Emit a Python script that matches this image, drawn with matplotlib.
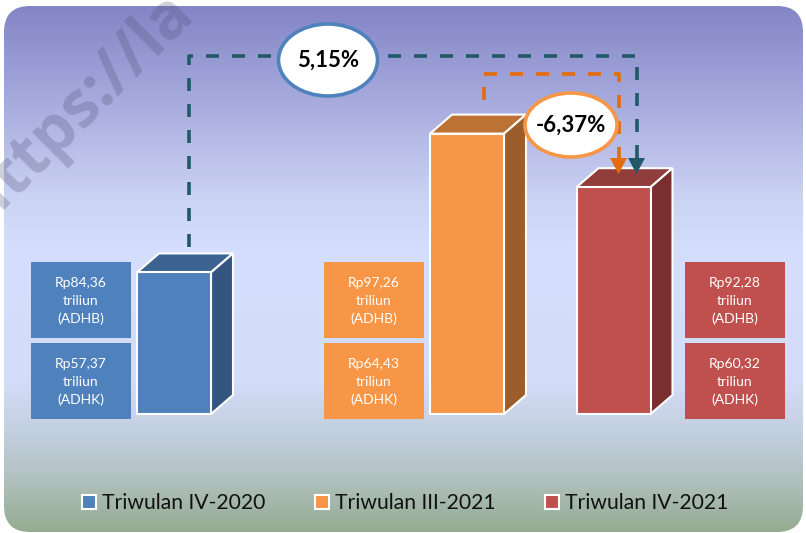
import matplotlib
matplotlib.use('Agg')
import matplotlib.pyplot as plt
import numpy as np
from matplotlib.patches import Polygon, Ellipse, FancyBboxPatch, Patch, Rectangle
from matplotlib.colors import to_rgb

plt.rcParams['font.family'] = ['Lato', 'DejaVu Sans']

# ---------------- data ----------------
categories = ['Triwulan IV-2020', 'Triwulan III-2021', 'Triwulan IV-2021']
adhb = [84.36, 97.26, 92.28]
adhk = [57.37, 64.43, 60.32]
growth_labels = ['5,15%', '-6,37%']

front_colors = ['#4f81bd', '#f79646', '#c0504d']
top_colors = ['#3d6390', '#bb7234', '#913d3b']
side_colors = ['#34557f', '#9c5d2a', '#7a2f2e']

W, H = 806, 533
fig = plt.figure(figsize=(W / 100, H / 100), dpi=100)
fig.patch.set_facecolor('white')

# ---------------- background ----------------
ax_bg = fig.add_axes([0, 0, 1, 1], zorder=0)
stops_y = [6, 100, 200, 250, 380, 430, 470, 532]
stops_c = ['#8385c5', '#a7aadd', '#ccd4f4', '#d5defc', '#d3ddf9', '#c3d0e0', '#b5c4c6', '#94ab90']
ys = np.arange(H)
cols = np.array([to_rgb(c) for c in stops_c])
grad = np.stack([np.interp(ys, stops_y, cols[:, k]) for k in range(3)], axis=-1)[:, None, :]
im = ax_bg.imshow(grad, extent=(0, W, H, 0), aspect='auto', interpolation='bilinear')
clip = FancyBboxPatch((4, 6), 799, 526, boxstyle='round,pad=0,rounding_size=26',
                      facecolor='none', edgecolor='none', transform=ax_bg.transData)
ax_bg.add_patch(clip)
im.set_clip_path(clip)
ax_bg.set_xlim(0, W)
ax_bg.set_ylim(H, 0)
ax_bg.axis('off')
ax_bg.text(-16, 226, 'https://la', rotation=45, rotation_mode='anchor', ha='left', va='baseline',
           fontsize=46, fontweight='bold', color='#505078', alpha=0.28,
           family=['Open Sans', 'DejaVu Sans'])

# ---------------- bars ----------------
base = 71.2
scale = 10.76          # pixels per unit
y_bottom_px = 414
ax = fig.add_axes([0, 0, 1, 1], zorder=1)
ax.patch.set_alpha(0)
ax.set_xlim(0, W)
ax.set_ylim(base - (H - y_bottom_px) / scale, base + y_bottom_px / scale)
ax.axis('off')

x_pos = [174, 467, 613.5]
bw = 74
bars = ax.bar(x_pos, np.array(adhb) - base, bottom=base, width=bw, color=front_colors,
              edgecolor='white', linewidth=1.5, zorder=3)
dx = 22
dy = 19 / scale
for b, tc, sc in zip(bars, top_colors, side_colors):
    x0 = b.get_x(); x1 = x0 + b.get_width()
    y0 = b.get_y(); y1 = y0 + b.get_height()
    ax.add_patch(Polygon([(x0, y1), (x0 + dx, y1 + dy), (x1 + dx, y1 + dy), (x1, y1)],
                         closed=True, fc=tc, ec='white', lw=1.5, zorder=2))
    ax.add_patch(Polygon([(x1, y0), (x1 + dx, y0 + dy), (x1 + dx, y1 + dy), (x1, y1)],
                         closed=True, fc=sc, ec='white', lw=1.5, zorder=2))


def vpx(v):
    return y_bottom_px - (v - base) * scale


# ---------------- overlay ----------------
ov = fig.add_axes([0, 0, 1, 1], zorder=2)
ov.patch.set_alpha(0)
ov.set_xlim(0, W)
ov.set_ylim(H, 0)
ov.axis('off')

box_w = 100
box_h = 76
box_sides = ['left', 'left', 'right']
for i in range(3):
    x0 = x_pos[i] - bw / 2
    x1 = x_pos[i] + bw / 2
    if box_sides[i] == 'left':
        bx = x0 - 6 - box_w
    else:
        bx = x1 + 34
    for j, (val, tag) in enumerate([(adhb[i], 'ADHB'), (adhk[i], 'ADHK')]):
        by = 262 + j * 81
        ov.add_patch(Rectangle((bx, by), box_w, box_h, fc=front_colors[i], ec='none'))
        txt = 'Rp' + f'{val:.2f}'.replace('.', ',') + '\ntriliun\n(' + tag + ')'
        ov.text(bx + box_w / 2, by + box_h / 2 + 1, txt, ha='center', va='center',
                color='white', fontsize=10, linespacing=1.6)

# dashed connectors
teal = '#215968'
orange = '#e46c0a'
dash = (0, (3.6, 3.6))
tx0 = x_pos[0] + 15
tx1 = x_pos[2] + 23
ty_top = 56
ov.plot([tx0, tx0, tx1, tx1], [vpx(adhb[0]) - 25, ty_top, ty_top, 160], color=teal, lw=2.6,
        ls=dash, solid_capstyle='butt', dash_capstyle='butt', zorder=2)
ov.add_patch(Polygon([(tx1 - 8.5, 158), (tx1 + 8.5, 158), (tx1, 174)], closed=True, fc=teal, ec='none'))

ox0 = x_pos[1] + 17
ox1 = x_pos[2] + 5
oy_top = 74
ov.plot([ox0, ox0, ox1, ox1], [100, oy_top, oy_top, 160], color=orange, lw=2.6,
        ls=dash, solid_capstyle='butt', dash_capstyle='butt', zorder=2)
ov.add_patch(Polygon([(ox1 - 8.5, 158), (ox1 + 8.5, 158), (ox1, 174)], closed=True, fc=orange, ec='none'))

ov.add_patch(Ellipse((328, 60), 99, 72, fc='white', ec='#4f81bd', lw=2.6, zorder=4))
ov.text(328, 60, growth_labels[0], ha='center', va='center', fontsize=16, fontweight='bold',
        color='black', zorder=5)
ov.add_patch(Ellipse((571, 125), 92, 64, fc='white', ec='#f79646', lw=2.6, zorder=4))
ov.text(571, 125, growth_labels[1], ha='center', va='center', fontsize=16, fontweight='bold',
        color='black', zorder=5)

# legend
handles = [Patch(fc=c, ec='white', lw=1.5) for c in front_colors]
leg = ov.legend(handles, categories, loc='center', bbox_to_anchor=(0.503, (H - 503) / H),
                ncol=3, frameon=False, fontsize=15.2, handlelength=0.65, handleheight=0.65,
                handletextpad=0.3, columnspacing=2.35, borderaxespad=0)
for t in leg.get_texts():
    t.set_color('#111111')

fig.savefig('out.png', dpi=100)
